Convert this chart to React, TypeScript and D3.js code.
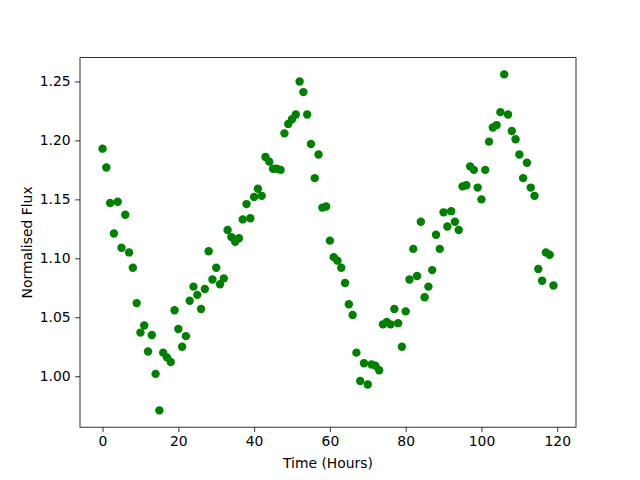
import React, { useEffect, useRef } from "react";
import * as d3 from "d3";

// hourly normalised flux readings, hour 0..119
const hours: number[] = d3.range(0, 120);
const flux: number[] = [
  1.193, 1.177, 1.147, 1.121, 1.148, 1.109, 1.137, 1.105, 1.092, 1.062,
  1.037, 1.043, 1.021, 1.035, 1.002, 0.971, 1.020, 1.016, 1.012, 1.056,
  1.040, 1.025, 1.034, 1.064, 1.076, 1.069, 1.057, 1.074, 1.106, 1.082,
  1.092, 1.078, 1.083, 1.124, 1.118, 1.114, 1.117, 1.133, 1.146, 1.134,
  1.152, 1.159, 1.153, 1.186, 1.182, 1.176, 1.176, 1.175, 1.206, 1.214,
  1.218, 1.222, 1.250, 1.241, 1.222, 1.197, 1.168, 1.188, 1.143, 1.144,
  1.115, 1.101, 1.098, 1.092, 1.079, 1.061, 1.052, 1.020, 0.996, 1.011,
  0.993, 1.010, 1.009, 1.005, 1.044, 1.046, 1.044, 1.057, 1.045, 1.025,
  1.055, 1.082, 1.108, 1.085, 1.131, 1.067, 1.076, 1.090, 1.120, 1.108,
  1.139, 1.127, 1.140, 1.131, 1.124, 1.161, 1.162, 1.178, 1.175, 1.160,
  1.150, 1.175, 1.199, 1.211, 1.213, 1.224, 1.256, 1.222, 1.208, 1.201,
  1.188, 1.168, 1.181, 1.160, 1.153, 1.091, 1.081, 1.105, 1.103, 1.077,
];
const xTicks: number[] = [0, 20, 40, 60, 80, 100, 120];
const yTicks: number[] = [1.0, 1.05, 1.1, 1.15, 1.2, 1.25];

const W = 640;
const H = 480;
const margin = { left: 80, right: 64, top: 57.6, bottom: 52.8 };

function padded(ext: [number, number]): [number, number] {
  const span = ext[1] - ext[0];
  return [ext[0] - span * 0.05, ext[1] + span * 0.05];
}

function App() {
  const svgRef = useRef<SVGSVGElement>(null);

  useEffect(() => {
    const svg = d3.select(svgRef.current);
    svg.selectAll("*").remove();

    const x = d3
      .scaleLinear()
      .domain(padded(d3.extent(hours) as [number, number]))
      .range([margin.left, W - margin.right]);
    const y = d3
      .scaleLinear()
      .domain(padded(d3.extent(flux) as [number, number]))
      .range([H - margin.bottom, margin.top]);

    const font = "DejaVu Sans, sans-serif";

    // points
    svg
      .append("g")
      .selectAll("circle")
      .data(hours)
      .join("circle")
      .attr("cx", (d) => x(d))
      .attr("cy", (d, i) => y(flux[i]))
      .attr("r", 4.2)
      .attr("fill", "#008000");

    // x axis
    const xAxis = svg
      .append("g")
      .attr("transform", `translate(0,${H - margin.bottom})`)
      .call(
        d3.axisBottom(x).tickValues(xTicks).tickSize(4.9).tickPadding(4.5).tickFormat(d3.format("d"))
      );

    // y axis
    const yAxis = svg
      .append("g")
      .attr("transform", `translate(${margin.left},0)`)
      .call(
        d3.axisLeft(y).tickValues(yTicks).tickSize(4.9).tickPadding(4.5).tickFormat(d3.format(".2f"))
      );

    [xAxis, yAxis].forEach((g) => {
      g.select(".domain").remove();
      g.selectAll("line").attr("stroke", "#000").attr("stroke-width", 0.8);
      g.selectAll("text")
        .attr("font-family", font)
        .attr("font-size", 13.9)
        .attr("fill", "#000");
    });

    // frame
    svg
      .append("rect")
      .attr("x", margin.left)
      .attr("y", margin.top)
      .attr("width", W - margin.left - margin.right)
      .attr("height", H - margin.top - margin.bottom)
      .attr("fill", "none")
      .attr("stroke", "#000")
      .attr("stroke-width", 0.8);

    // labels
    svg
      .append("text")
      .attr("x", (margin.left + W - margin.right) / 2)
      .attr("y", 468)
      .attr("text-anchor", "middle")
      .attr("font-family", font)
      .attr("font-size", 13.9)
      .text("Time (Hours)");

    svg
      .append("text")
      .attr("transform", `translate(32,${(margin.top + H - margin.bottom) / 2}) rotate(-90)`)
      .attr("text-anchor", "middle")
      .attr("font-family", font)
      .attr("font-size", 13.9)
      .text("Normalised Flux");
  }, []);

  return (
    <svg
      ref={svgRef}
      width={W}
      height={H}
      style={{ position: "absolute", left: 0, top: 0, background: "#fff" }}
    />
  );
}

export default App;
